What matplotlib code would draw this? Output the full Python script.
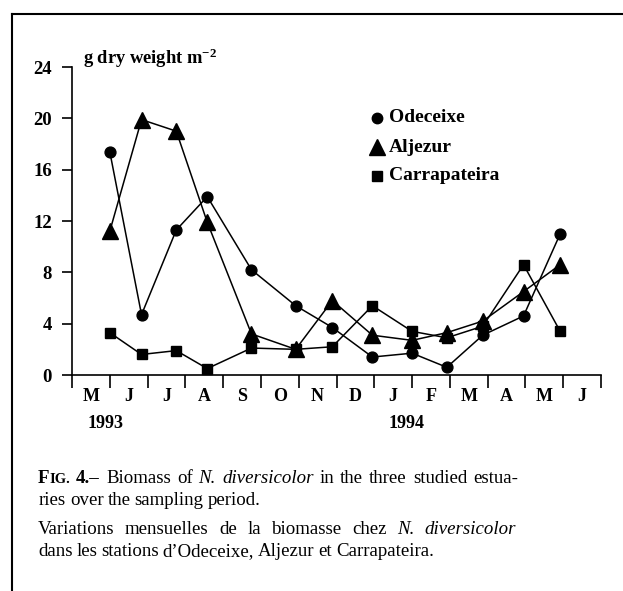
import matplotlib
matplotlib.use('Agg')
import matplotlib.pyplot as plt
from matplotlib.lines import Line2D
from matplotlib.transforms import blended_transform_factory

# ---------------- data ----------------
months = ['M', 'J', 'J', 'A', 'S', 'O', 'N', 'D', 'J', 'F', 'M', 'A', 'M', 'J']
years = ['1993', '1994']
year_pos = [0.9, 8.86]
# sampling positions in months since 1 May 1993
sample_pos = [1.0, 1.84, 2.76, 3.58, 4.75, 5.92, 6.89, 7.95, 9.0, 9.92, 10.87, 11.95, 12.92]
odeceixe = [17.4, 4.7, 11.3, 13.9, 8.2, 5.4, 3.7, 1.4, 1.7, 0.6, 3.1, 4.6, 11.0]
aljezur = [11.2, 19.9, 19.0, 11.9, 3.2, 2.0, 5.8, 3.1, 2.7, 3.3, 4.2, 6.5, 8.6]
carrapateira = [3.3, 1.6, 1.9, 0.5, 2.1, 2.0, 2.2, 5.4, 3.4, 2.9, 3.8, 8.6, 3.4]
series_names = ['Odeceixe', 'Aljezur', 'Carrapateira']
yticks = [0, 4, 8, 12, 16, 20, 24]
ylabel = r'g dry weight m$^{\mathbf{-2}}$'

# ---------------- style ----------------
plt.rcParams['font.family'] = ['Liberation Serif', 'DejaVu Serif']
plt.rcParams['mathtext.fontset'] = 'custom'
plt.rcParams['mathtext.rm'] = 'Liberation Serif'
plt.rcParams['mathtext.it'] = 'Liberation Serif:italic'
plt.rcParams['mathtext.bf'] = 'Liberation Serif:bold'

W, H = 623, 591
fig = plt.figure(figsize=(W / 100, H / 100), dpi=100)
fig.patch.set_facecolor('white')

def fx(px):
    return px / W

def fy(py):
    return 1 - py / H

# axes box: x 72..601 px, y 67..375 px
ax = fig.add_axes([fx(72), fy(375), fx(601) - fx(72), fy(67) - fy(375)])
ax.set_xlim(0, len(months))
ax.set_ylim(yticks[0], yticks[-1])
for s in ['top', 'right']:
    ax.spines[s].set_visible(False)
for s in ['left', 'bottom']:
    ax.spines[s].set_linewidth(1.2)

styles = [dict(marker='o', ms=7.8), dict(marker='^', ms=11), dict(marker='s', ms=6.8)]
for vals, st in zip([odeceixe, aljezur, carrapateira], styles):
    ax.plot(sample_pos, vals, color='black', lw=1.1, clip_on=False,
            markerfacecolor='black', markeredgecolor='black', **st)

ax.set_yticks(yticks)
ax.set_yticklabels([str(v) for v in yticks], fontsize=13.5, fontweight='bold')
ax.tick_params(axis='y', direction='out', length=7.5, width=1.2, pad=7)

ax.set_xticks(range(len(months) + 1))
ax.set_xticklabels([])
ax.tick_params(axis='x', which='major', direction='out', length=9.5, width=1.2)
ax.set_xticks([i + 0.5 for i in range(len(months))], minor=True)
ax.set_xticklabels(months, minor=True, fontsize=13, fontweight='bold')
ax.tick_params(axis='x', which='minor', length=0, pad=9.5)

trans = blended_transform_factory(ax.transData, fig.transFigure)
for yr, xp in zip(years, year_pos):
    ax.text(xp, fy(423), yr, transform=trans, ha='center', va='center',
            fontsize=13, fontweight='bold')

fig.text(fx(83), fy(64), ylabel, ha='left', va='baseline', fontsize=13.3, fontweight='bold')

# legend
leg_y = [118, 147, 176]
leg_ms = [7.5, 11, 6.5]
for name, st, yy, ms in zip(series_names, styles, leg_y, leg_ms):
    fig.add_artist(Line2D([fx(377)], [fy(yy)], transform=fig.transFigure, marker=st['marker'],
                          ms=ms, color='black', linestyle='none'))
    fig.text(fx(389), fy(yy), name, ha='left', va='center', fontsize=14, fontweight='bold')

# frame
fig.add_artist(Line2D([fx(12), fx(623)], [fy(13.5), fy(13.5)], transform=fig.transFigure,
                      color='black', lw=1.5))
fig.add_artist(Line2D([fx(12), fx(12)], [fy(13.5), fy(591)], transform=fig.transFigure,
                      color='black', lw=1.5))

# ---------------- caption ----------------
CS = 13.6
STY = {
    'r': dict(fontsize=CS, fontweight='normal', fontstyle='normal'),
    'i': dict(fontsize=CS, fontweight='normal', fontstyle='italic'),
    'b': dict(fontsize=CS, fontweight='bold', fontstyle='normal'),
    's': dict(fontsize=CS * 0.77, fontweight='bold', fontstyle='normal'),
}
renderer = fig.canvas.get_renderer()


def words(s, st):
    return [[(w, st)] for w in s.split()]


def place_line(wlist, x0, ybase, width=None, space=3.9):
    arts, widths = [], []
    for w in wlist:
        runs = []
        for txt, st in w:
            t = fig.text(0, fy(ybase), txt, ha='left', va='baseline', **STY[st])
            runs.append((t, t.get_window_extent(renderer).width))
        arts.append(runs)
        widths.append(sum(r[1] for r in runs))
    gap = space if width is None else (width - sum(widths)) / (len(wlist) - 1)
    x = x0
    for runs in arts:
        for t, wd in runs:
            t.set_x(fx(x))
            x += wd
        x += gap


line1 = ([[('F', 'b'), ('IG.', 's')], [('4.–', 'b')]] + words('Biomass of', 'r')
         + words('N. diversicolor', 'i') + words('in the three studied estua-', 'r'))
line2 = words('ries over the sampling period.', 'r')
line3 = (words('Variations mensuelles de la biomasse chez', 'r')
         + words('N. diversicolor', 'i'))
line4 = words("dans les stations d’Odeceixe, Aljezur et Carrapateira.", 'r')

place_line(line1, 38, 483, width=480)
place_line(line2, 39, 505)
place_line(line3, 38, 534, width=478)
place_line(line4, 38, 556)

fig.savefig('out.png', dpi=100, facecolor='white')
